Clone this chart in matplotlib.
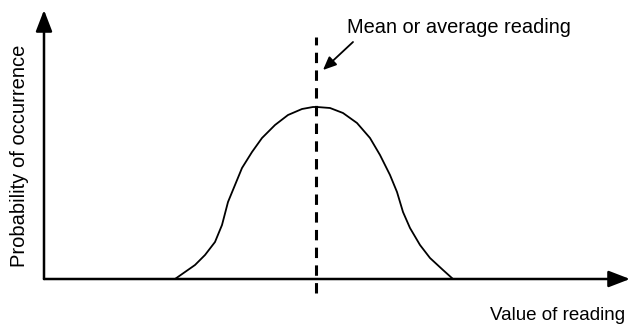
import matplotlib.pyplot as plt
import numpy as np

plt.rcParams['font.family'] = ['Liberation Sans', 'DejaVu Sans']

# curve (x = value of reading, y = probability)
reading = [131, 141, 151, 161, 171, 178, 184, 191, 198, 208, 218, 231,
           244, 258, 269, 273, 286, 299, 313, 326, 336, 346, 353, 359,
           366, 376, 386, 399, 409]
probability = [0, 7, 14, 24, 37, 54, 77, 94, 111, 127, 141, 154,
               164, 170, 172, 172, 171, 166, 156, 141, 124, 104, 87, 67,
               51, 34, 21, 9, 0]
mean_reading = 272
x_axis_end = 586
y_axis_end = 269

fig = plt.figure(figsize=(6.43, 3.25), dpi=100)
ax = fig.add_axes([0, 0, 1, 1])
ax.set_xlim(-44, 599)
ax.set_ylim(-46, 279)
ax.axis('off')

arrow = dict(arrowstyle='-|>,head_length=13,head_width=5', mutation_scale=1,
             lw=1.8, color='black', shrinkA=0, shrinkB=0)
ax.annotate('', xy=(0, y_axis_end), xytext=(0, 0), arrowprops=arrow)
ax.annotate('', xy=(x_axis_end, 0), xytext=(0, 0), arrowprops=arrow)

ax.plot(reading, probability, color='black', lw=1.3,
        solid_joinstyle='round', solid_capstyle='round')

ax.plot([mean_reading, mean_reading], [-14, 242], color='black', lw=2.2,
        linestyle=(0, (3.4, 2.4)))

ax.annotate('', xy=(mean_reading + 7, 209), xytext=(mean_reading + 37, 237),
            arrowprops=dict(arrowstyle='-|>,head_length=8,head_width=3.5',
                            mutation_scale=1, lw=1.3, color='black',
                            shrinkA=0, shrinkB=0))

ax.text(303, 246, 'Mean or average reading', fontsize=14.4,
        ha='left', va='baseline')
ax.text(446, -41, 'Value of reading', fontsize=13.5, ha='left', va='baseline')
ax.text(-24, 123, 'Probability of occurrence', fontsize=14.5, rotation=90,
        ha='center', va='center')

fig.savefig('out.png', dpi=100)
